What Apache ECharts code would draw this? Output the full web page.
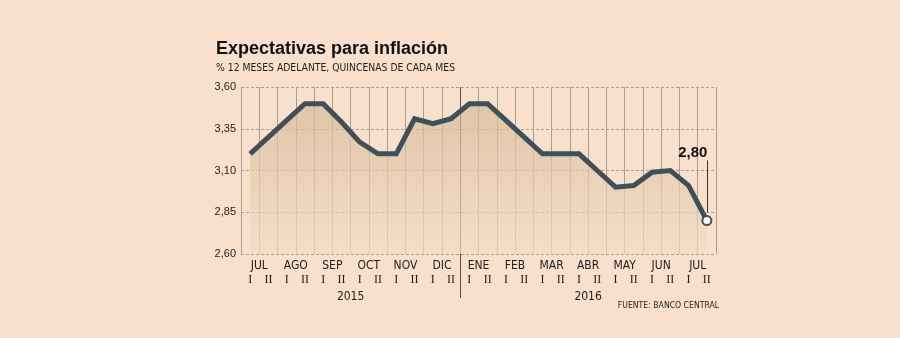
<!DOCTYPE html>
<html>
<head>
<meta charset="utf-8">
<script src="https://cdn.jsdelivr.net/npm/echarts@6/dist/echarts.min.js"></script>
<style>
  html, body { margin: 0; padding: 0; background: #f9e0cd; }
  #chart { width: 900px; height: 338px; }
</style>
</head>
<body>
<div id="chart"></div>
<script>
// Half-month periods (I = first fortnight, II = second fortnight)
const quincenas = ['I','II','I','II','I','II','I','II','I','II','I','II',
                   'I','II','I','II','I','II','I','II','I','II','I','II','I','II'];
const meses = ['JUL','AGO','SEP','OCT','NOV','DIC','ENE','FEB','MAR','ABR','MAY','JUN','JUL'];
const anios = [{ pos: 6, text: '2015' }, { pos: 19, text: '2016' }];
const cambioAnio = 12;

// Expected inflation, % 12 months ahead
const expectativa = [3.20, 3.30, 3.40, 3.50, 3.50, 3.39, 3.27, 3.20, 3.20, 3.41, 3.38, 3.41,
                     3.50, 3.50, 3.40, 3.30, 3.20, 3.20, 3.20, 3.10, 3.00, 3.01, 3.09, 3.10,
                     3.01, 2.80];

const yTicks = [2.60, 2.85, 3.10, 3.35, 3.60];

const SANS = '"Liberation Sans Narrow", "DejaVu Sans Condensed", "Liberation Sans", sans-serif';
const INK = '#1d1d1d';
const LINE = '#3e505b';

const fmt = v => v.toFixed(2).replace('.', ',');
const last = expectativa.length - 1;

const serieData = expectativa.map((v, i) => i === last
  ? { value: v,
      label: { show: true, position: 'top', distance: 55, offset: [-14, 0],
               formatter: p => fmt(p.value),
               fontFamily: '"Liberation Sans", sans-serif', fontWeight: 'bold',
               fontSize: 15, color: '#111' } }
  : v);

const chart = echarts.init(document.getElementById('chart'), null, { renderer: 'canvas' });

chart.setOption({
  backgroundColor: '#f9e0cd',
  animation: false,
  title: [
    { text: 'Expectativas para inflación',
      subtext: '% 12 MESES ADELANTE, QUINCENAS DE CADA MES',
      left: 216, top: 40, padding: 0, itemGap: 5,
      textStyle: { fontFamily: '"Liberation Sans", sans-serif', fontWeight: 'bold', fontSize: 18, color: '#111' },
      subtextStyle: { fontFamily: SANS, fontSize: 10.3, color: INK } },
    { text: 'FUENTE: BANCO CENTRAL', right: 181, top: 301, padding: 0,
      textStyle: { fontFamily: SANS, fontWeight: 'normal', fontSize: 8.6, color: INK } }
  ],
  grid: { left: 241, right: 184, top: 87, bottom: 84 },
  xAxis: [
    { type: 'category', data: quincenas, boundaryGap: true, position: 'bottom',
      axisLine: { show: false }, axisTick: { show: false },
      axisLabel: { interval: 0, margin: 20, fontFamily: '"Liberation Serif", serif', fontSize: 12, color: INK },
      splitLine: { show: true, interval: 0, lineStyle: { color: '#ab9c8f', width: 1 } } },
    { type: 'category', data: meses, boundaryGap: true, position: 'bottom',
      axisLine: { show: false }, axisTick: { show: false }, splitLine: { show: false },
      axisLabel: { interval: 0, margin: 6, fontFamily: SANS, fontSize: 12, color: INK } },
    { type: 'value', min: 0, max: quincenas.length, position: 'bottom',
      axisLine: { show: false },
      axisTick: { show: true, customValues: [cambioAnio], length: 44, lineStyle: { color: '#5c524c', width: 1 } },
      axisLabel: { customValues: anios.map(a => a.pos), margin: 37, fontFamily: SANS, fontSize: 12, color: INK,
                   formatter: v => (anios.find(a => a.pos === v) || {}).text || '' },
      splitLine: { show: true, lineStyle: { color: '#5c524c', width: 1 } } }
  ],
  yAxis: {
    type: 'value', min: 2.6, max: 3.6,
    axisLine: { show: false },
    axisTick: { show: false, customValues: yTicks },
    axisLabel: { customValues: yTicks, margin: 5, formatter: fmt,
                 fontFamily: '"Liberation Sans", sans-serif', fontSize: 11, color: INK },
    splitLine: { show: true, lineStyle: { color: '#b09d8d', type: [3, 2], width: 1 } }
  },
  series: [{
    type: 'line',
    xAxisIndex: 0,
    data: serieData,
    symbol: 'circle',
    showAllSymbol: true,
    symbolSize: (v, p) => p.dataIndex === last ? 9 : 0,
    itemStyle: { color: '#ffffff', borderColor: LINE, borderWidth: 2 },
    lineStyle: { color: LINE, width: 5, join: 'miter' },
    areaStyle: {
      origin: 'start',
      color: new echarts.graphic.LinearGradient(0, 0, 0, 1, [
        { offset: 0, color: '#d4bb98' },
        { offset: 1, color: '#f4dcc6' }
      ])
    },
    markLine: {
      silent: true, symbol: ['none', 'none'], label: { show: false },
      lineStyle: { color: '#333', width: 1, type: 'solid' },
      data: [[ { coord: [last, expectativa[last] + 0.05] },
               { coord: [last, expectativa[last] + 0.36] } ]]
    },
    z: 3
  }]
});
</script>
</body>
</html>
